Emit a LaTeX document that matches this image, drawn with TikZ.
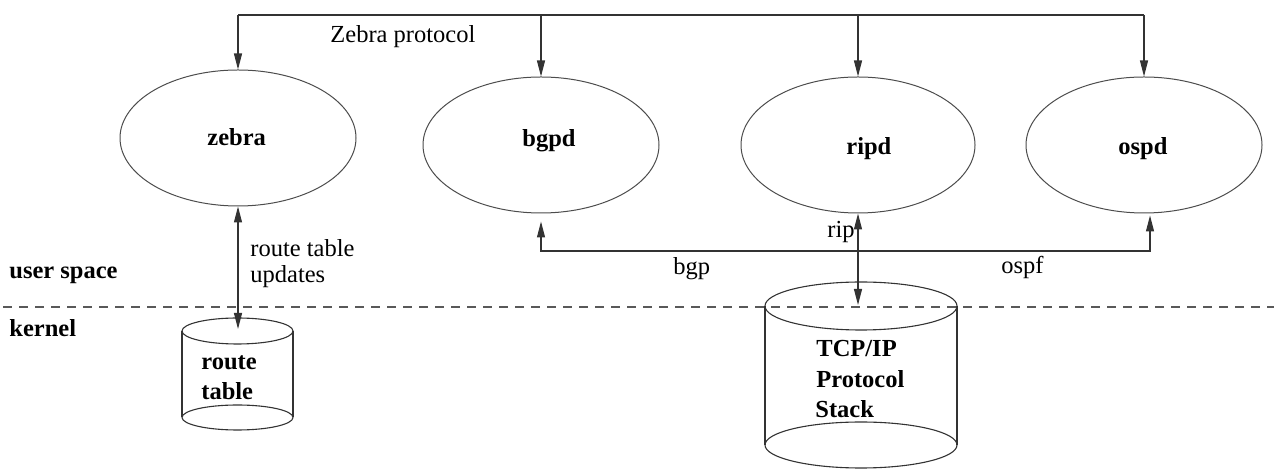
\documentclass[tikz,border=0pt]{standalone}
\usepackage{fontspec}
\setmainfont{Liberation Serif}
\usetikzlibrary{arrows.meta,shapes.geometric}
\begin{document}
\begin{tikzpicture}[x=0.5pt,y=-0.5pt,
  font=\fontsize{12.25}{14}\selectfont,
  line/.style={draw=black!80, line width=0.55pt},
  tip/.tip={Triangle[length=8pt,width=4pt]},
  arr/.style={line, -tip},
  darr/.style={line, tip-tip},
  daemon/.style={ellipse, draw=black!70, line width=0.5pt, inner sep=0pt,
                 minimum width=118pt, minimum height=68pt},
  txt/.style={inner sep=0pt, anchor=base west},
  btxt/.style={txt, font=\fontsize{12.25}{14}\selectfont\bfseries},
  layer/.style={draw=black!65, line width=0.6pt, dash pattern=on 4.5pt off 3.5pt, dash phase=6.5pt}]

\useasboundingbox (0,0) rectangle (1274,469);

% daemons in user space
\node[daemon] (zebra) at (238,138) {};
\node[daemon] (bgpd)  at (541,145) {};
\node[daemon, minimum width=117pt] (ripd) at (858,145) {};
\node[daemon] (ospd)  at (1144,145) {};

\node[btxt] (zebra-t) at (207,146)   {zebra};
\node[btxt] (bgpd-t)  at (522,146.3) {bgpd};
\node[btxt] (ripd-t)  at (846,154.6) {ripd};
\node[btxt] (ospd-t)  at (1118,154.6) {ospd};

% Zebra protocol bus
\coordinate (bus) at (0,15);
\draw[line] (zebra.north |- bus) -- (ospd.north |- bus);
\foreach \d in {zebra,bgpd,ripd,ospd}
  \draw[arr] (\d.north |- bus) -- (\d.north);
\node[txt] (zproto) at (330,43) {Zebra protocol};

% user space / kernel boundary
\draw[layer] (0,307) -- (1274,307);
\node[btxt] (user) at (9,279) {user space};
\node[btxt] (kernel) at (9,336.7) {kernel};

% kernel route table
\draw[line] (182,331) -- (182,417.5);
\draw[line] (293,331) -- (293,417.5);
\draw[line] (237.5,331) ellipse [x radius=55.5, y radius=13];
\draw[line] (237.5,417.5) ellipse [x radius=55.5, y radius=12.5];
\coordinate (rt-top) at (238,329);
\node[btxt] (rt1) at (201,370) {route};
\node[btxt] (rt2) at (201,400) {table};

\draw[darr] (zebra.south) -- (rt-top);
\node[txt] (upd1) at (250,256.7) {route table};
\node[txt] (upd2) at (250,283) {updates};

% kernel TCP/IP stack
\draw[line] (765,306) -- (765,445);
\draw[line] (957,306) -- (957,445);
\draw[line] (861,306) ellipse [x radius=96, y radius=24];
\draw[line] (861,445) ellipse [x radius=96, y radius=23];
\coordinate (tcp-top) at (858,305);
\node[btxt] (tcp1) at (816,356.7) {TCP/IP};
\node[btxt] (tcp2) at (816,388) {Protocol};
\node[btxt] (tcp3) at (815,418) {Stack};

% routing protocol traffic
\draw[darr] (ripd.south) -- (ripd.south |- tcp-top);
\node[txt] (rip) at (827,238) {rip};

\coordinate (lowbus) at (0,251);
\coordinate (bgp-in) at ([yshift=-4pt]bgpd.south);
\coordinate (ospf-in) at ([xshift=3pt,yshift=-1pt]ospd.south);
\draw[darr] (bgp-in) -- (bgp-in |- lowbus) -- (ospf-in |- lowbus) -- (ospf-in);
\node[txt] (bgp) at (673,275) {bgp};
\node[txt] (ospf) at (1001,274) {ospf};

\end{tikzpicture}
\end{document}
